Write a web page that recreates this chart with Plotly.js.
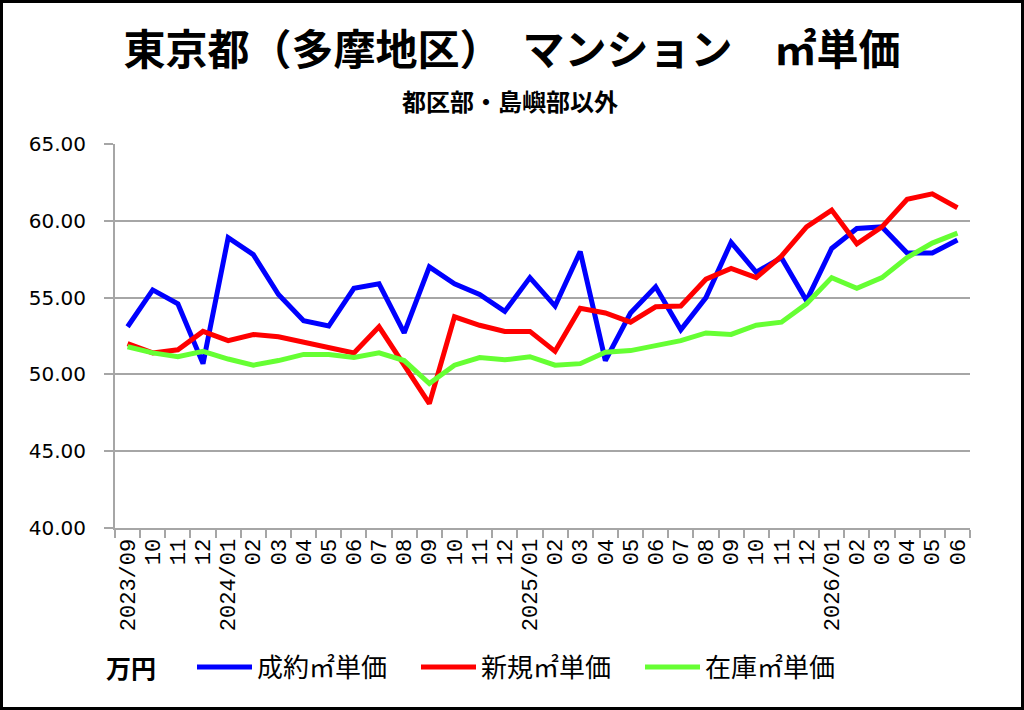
<!DOCTYPE html>
<html>
<head>
<meta charset="utf-8">
<script src="https://cdn.plot.ly/plotly-3.0.1.min.js"></script>
<style>
  body { margin: 0; background: #fff; }
  #wrap { position: relative; width: 1024px; height: 710px; }
  #chart { width: 1024px; height: 710px; }
  #frame { position: absolute; left: 0; top: 0; width: 1024px; height: 710px;
           box-sizing: border-box; border: 3px solid #000; pointer-events: none; }
</style>
</head>
<body>
<div id="wrap">
  <div id="chart"></div>
  <div id="frame"></div>
</div>
<script>
// months 2023/09 - 2026/06
const months = [
  '2023/09','2023/10','2023/11','2023/12',
  '2024/01','2024/02','2024/03','2024/04','2024/05','2024/06',
  '2024/07','2024/08','2024/09','2024/10','2024/11','2024/12',
  '2025/01','2025/02','2025/03','2025/04','2025/05','2025/06',
  '2025/07','2025/08','2025/09','2025/10','2025/11','2025/12',
  '2026/01','2026/02','2026/03','2026/04','2026/05','2026/06'
];
const monthLabels = [
  '2023/09','10','11','12',
  '2024/01','02','03','04','05','06','07','08','09','10','11','12',
  '2025/01','02','03','04','05','06','07','08','09','10','11','12',
  '2026/01','02','03','04','05','06'
];

// 万円 / ㎡
const seiyaku = [53.1, 55.5, 54.6, 50.7, 58.9, 57.8, 55.2, 53.5, 53.15, 55.6,
  55.9, 52.7, 57.0, 55.9, 55.2, 54.1, 56.3, 54.45, 58.0, 50.9,
  54.0, 55.7, 52.9, 55.0, 58.6, 56.65, 57.6, 54.8, 58.2, 59.5,
  59.6, 57.9, 57.9, 58.75];
const shinki = [52.0, 51.4, 51.6, 52.8, 52.2, 52.6, 52.45, 52.1, 51.8, 51.4,
  53.1, 50.6, 48.1, 53.75, 53.2, 52.8, 52.8, 51.5, 54.3, 54.0,
  53.4, 54.4, 54.45, 56.2, 56.9, 56.3, 57.7, 59.6, 60.7, 58.5,
  59.6, 61.4, 61.75, 60.85];
const zaiko = [51.8, 51.4, 51.15, 51.5, 51.0, 50.6, 50.9, 51.3, 51.3, 51.1,
  51.4, 50.9, 49.4, 50.6, 51.1, 50.95, 51.15, 50.6, 50.7, 51.45,
  51.55, 51.9, 52.2, 52.7, 52.6, 53.2, 53.4, 54.6, 56.3, 55.6,
  56.3, 57.6, 58.55, 59.2];

const jp = '"Noto Sans CJK JP", sans-serif';
const num = '"DejaVu Sans", sans-serif';
const gray = '#a6a6a6';

const data = [
  { x: months, y: seiyaku, name: '成約㎡単価', type: 'scatter', mode: 'lines',
    line: { color: '#0000ff', width: 5 } },
  { x: months, y: shinki, name: '新規㎡単価', type: 'scatter', mode: 'lines',
    line: { color: '#ff0000', width: 5 } },
  { x: months, y: zaiko, name: '在庫㎡単価', type: 'scatter', mode: 'lines',
    line: { color: '#66ff33', width: 5 } }
];

const layout = {
  width: 1024,
  height: 710,
  paper_bgcolor: '#ffffff',
  plot_bgcolor: '#ffffff',
  margin: { l: 115, r: 54, t: 144, b: 182 },
  title: {
    text: '東京都（多摩地区）　マンション　㎡単価',
    font: { family: jp, size: 42, color: '#000', weight: 'bold' },
    x: 0.5, xanchor: 'center',
    y: 1 - 50 / 710, yref: 'container', yanchor: 'middle'
  },
  xaxis: {
    type: 'category',
    range: [-0.5, months.length - 0.5],
    tickmode: 'array',
    tickvals: months,
    ticktext: monthLabels,
    tickangle: -90,
    tickson: 'boundaries',
    ticks: 'outside',
    ticklen: 8,
    tickwidth: 2,
    tickcolor: gray,
    showline: true,
    linecolor: gray,
    linewidth: 2,
    showgrid: false,
    tickfont: { family: '"Liberation Mono", monospace', size: 22, color: '#000' },
    automargin: false
  },
  yaxis: {
    range: [40, 65],
    dtick: 5,
    tickformat: '.2f',
    ticks: 'outside',
    ticklen: 9,
    tickwidth: 2,
    tickcolor: gray,
    showline: true,
    linecolor: gray,
    linewidth: 2,
    showgrid: true,
    gridcolor: gray,
    gridwidth: 2,
    zeroline: false,
    ticklabelstandoff: 14,
    tickfont: { family: num, size: 20, color: '#000' },
    automargin: false
  },
  showlegend: true,
  legend: {
    orientation: 'h',
    x: (192 - 115) / 855,
    xanchor: 'left',
    y: (528 - 667) / 384,
    yanchor: 'middle',
    bgcolor: 'rgba(0,0,0,0)',
    font: { family: jp, size: 26, color: '#000' },
    itemwidth: 55,
    entrywidth: 154,
    traceorder: 'normal'
  },
  annotations: [
    { text: '都区部・島嶼部以外', xref: 'paper', yref: 'paper',
      x: (510 - 115) / 855, y: (528 - 100) / 384, showarrow: false,
      xanchor: 'center', yanchor: 'middle',
      font: { family: jp, size: 24, color: '#000', weight: 'bold' } },
    { text: '万円', xref: 'paper', yref: 'paper',
      x: (104 - 115) / 855, y: (528 - 667) / 384, showarrow: false,
      xanchor: 'left', yanchor: 'middle',
      font: { family: jp, size: 25, color: '#000', weight: 'bold' } }
  ]
};

Plotly.newPlot('chart', data, layout, { displayModeBar: false, staticPlot: true });
</script>
</body>
</html>
